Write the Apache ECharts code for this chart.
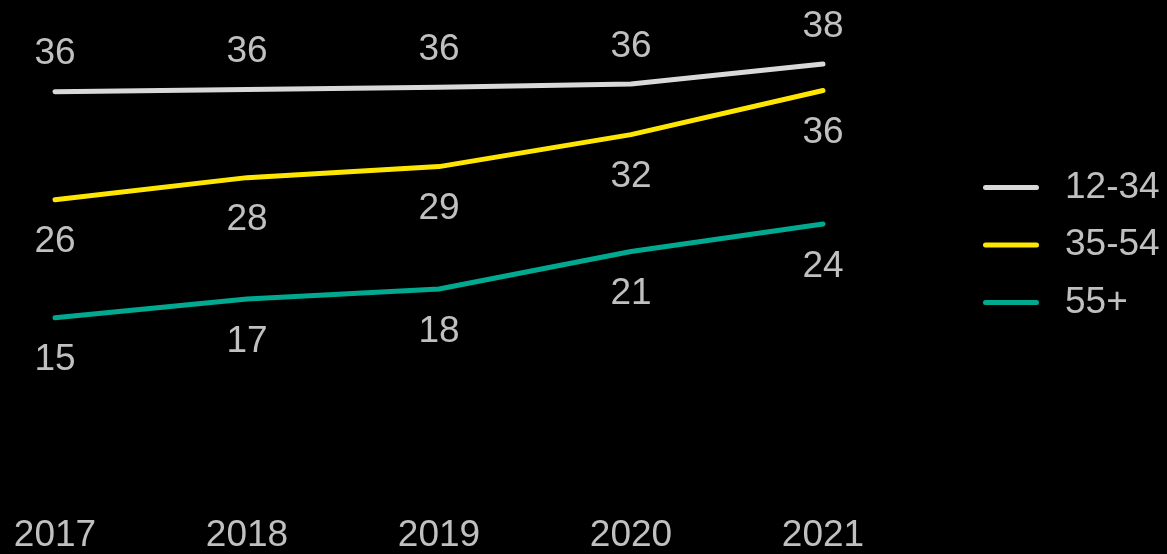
<!DOCTYPE html>
<html>
<head>
<meta charset="utf-8">
<script src="https://cdn.jsdelivr.net/npm/echarts@6/dist/echarts.min.js"></script>
<style>
html,body{margin:0;padding:0;background:#000;}
#chart{width:1167px;height:554px;}
</style>
</head>
<body>
<div id="chart"></div>
<script>
const years = ['2017', '2018', '2019', '2020', '2021'];
const seriesNames = ['12-34', '35-54', '55+'];
const age12to34 = [35.5, 35.7, 35.9, 36.2, 38.0];
const age35to54 = [25.7, 27.7, 28.7, 31.6, 35.6];
const age55plus = [15.0, 16.7, 17.6, 21.0, 23.5];
const colors = ['#d9d9d9', '#ffe600', '#00a990'];

const FONT = 'Liberation Sans, Arial, sans-serif';
const TEXT = '#c0c0c0';
const FS = 37;

function mk(name, data, color, pos) {
  return {
    name: name,
    type: 'line',
    data: data,
    symbol: 'circle',
    symbolSize: 0,
    showSymbol: true,
    smooth: false,
    lineStyle: { color: color, width: 5, cap: 'round', join: 'round' },
    itemStyle: { color: color },
    label: {
      show: true,
      position: pos,
      distance: pos === 'top' ? 19 : 24,
      color: TEXT,
      fontSize: FS,
      fontFamily: FONT,
      formatter: p => String(Math.round(p.value))
    },
    emphasis: { disabled: true },
    silent: true
  };
}

const chart = echarts.init(document.getElementById('chart'));
chart.setOption({
  backgroundColor: '#000',
  animation: false,
  grid: { left: 55, right: 344, top: 20, bottom: 68 },
  legend: {
    orient: 'vertical',
    left: 983,
    top: 169,
    padding: 0,
    itemWidth: 56,
    itemHeight: 5,
    itemGap: 20.5,
    icon: 'path://M2.5,0 H53.5 A2.5,2.5 0 0 1 53.5,5 H2.5 A2.5,2.5 0 0 1 2.5,0 Z',
    data: seriesNames,
    textStyle: { color: TEXT, fontSize: FS, fontFamily: FONT, lineHeight: 37, padding: [0, 0, 0, 21] }
  },
  xAxis: {
    type: 'category',
    data: years,
    boundaryGap: false,
    axisLine: { show: false },
    axisTick: { show: false },
    splitLine: { show: false },
    axisLabel: { color: TEXT, fontSize: FS, fontFamily: FONT, margin: 34 }
  },
  yAxis: {
    type: 'value',
    min: 0,
    max: 42,
    show: false,
    splitLine: { show: false }
  },
  series: [
    mk(seriesNames[0], age12to34, colors[0], 'top'),
    mk(seriesNames[1], age35to54, colors[1], 'bottom'),
    mk(seriesNames[2], age55plus, colors[2], 'bottom')
  ]
});
</script>
</body>
</html>
